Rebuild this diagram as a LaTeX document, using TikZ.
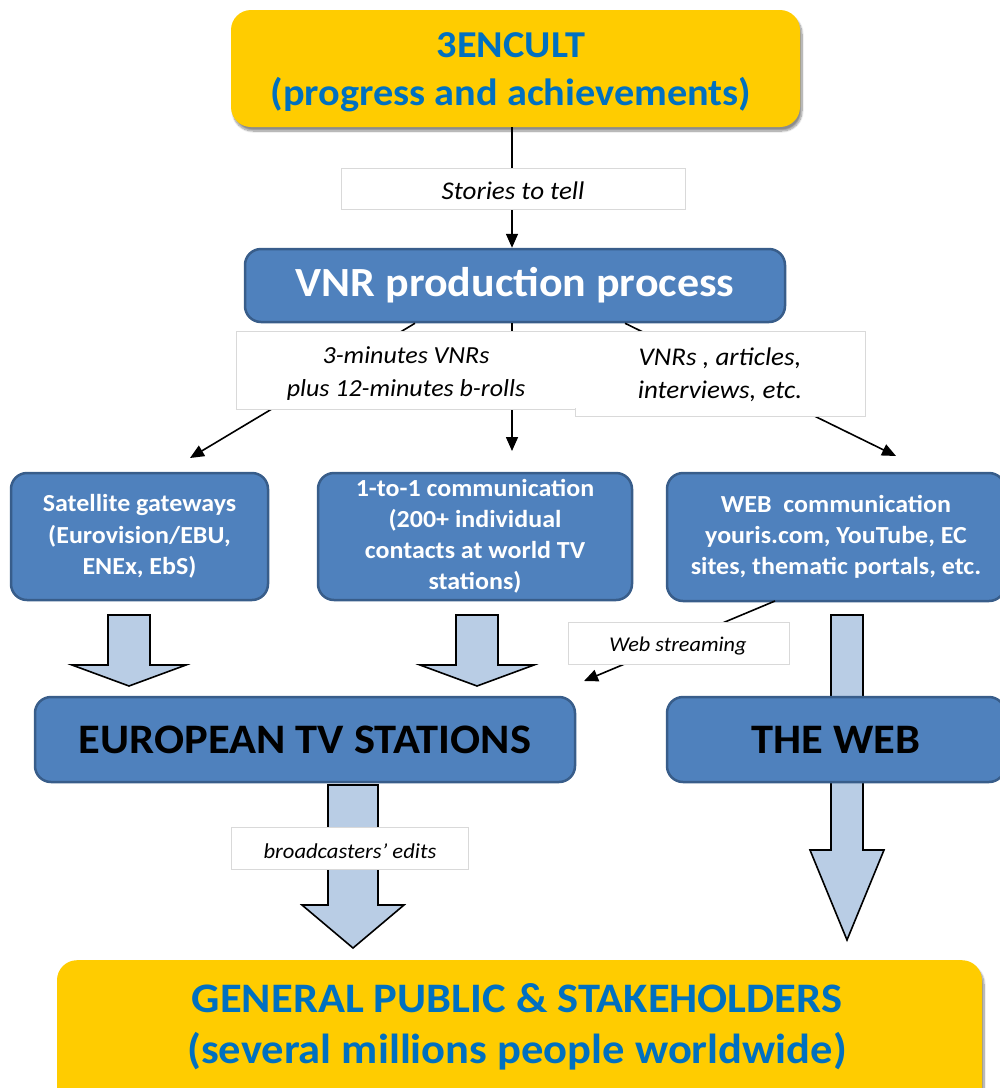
\documentclass[tikz,border=0pt]{standalone}
\usepackage{fontspec}
\setmainfont{Carlito}[FakeStretch=1.06]
\usetikzlibrary{arrows.meta,shadows.blur,calc}
\definecolor{sunyellow}{HTML}{FFCC00}
\definecolor{titleblue}{HTML}{0070C0}
\definecolor{boxblue}{HTML}{4F81BD}
\definecolor{boxedge}{HTML}{385D8A}
\definecolor{paleblue}{HTML}{B9CDE5}
\definecolor{labeledge}{HTML}{D9D9D9}
\newcommand\fsz[2]{\fontsize{#1}{#2}\selectfont}
\tikzset{
  yellowbox/.style={draw=none, fill=sunyellow, rounded corners=20pt,
    blur shadow={shadow xshift=2pt, shadow yshift=-4pt, shadow blur steps=10, shadow opacity=45},
    inner sep=0pt},
  bigtitle/.style={text=titleblue, align=center, inner sep=0pt},
  bluebox/.style={draw=boxedge, line width=2.5pt, fill=boxblue, rounded corners=16pt,
    text=white, align=center, inner sep=0pt},
  tagbox/.style={draw=labeledge, line width=0.8pt, fill=white, inner sep=0pt, align=center},
  tagtext/.style={inner sep=0pt, align=center},
  arr/.style={line width=1.6pt, -{Triangle[length=14pt,width=12pt]}},
  fatarrow/.style={draw=black, line width=1.6pt, fill=paleblue, line join=miter}
}
% block arrow: centre x, top y, neck y, tip y, shaft half width, head half width
\newcommand\fatdown[6]{%
  \path[fatarrow] (#1-#5,#2) -- (#1+#5,#2) -- (#1+#5,#3) -- (#1+#6,#3) -- (#1,#4)
    -- (#1-#6,#3) -- (#1-#5,#3) -- cycle;}
\begin{document}
\begin{tikzpicture}[x=1pt,y=-1pt]
\useasboundingbox (0,0) rectangle (1000,1088);
\clip (0,0) rectangle (1000,1088);

% block arrows, behind the boxes
\fatdown{129}{615}{665}{686}{21}{57}
\fatdown{477}{615}{665}{686}{21}{57}
\fatdown{847}{615}{850}{940}{16}{37}
\fatdown{353}{785}{905}{948}{25}{51}

% top source box
\node[yellowbox, minimum width=569pt, minimum height=117pt] (src) at (515.5,68.5) {};
\node[bigtitle, font=\bfseries\fsz{38}{48}] (srctext) at (511,72.5)
  {3ENCULT\\(progress and achievements)};

% production box
\node[bluebox, minimum width=540pt, minimum height=73pt, font=\bfseries\fsz{41.5}{48}] (vnr) at (515,285.5)
  {VNR production process};

% channel boxes
\node[bluebox, minimum width=257pt, minimum height=127pt, font=\bfseries\fsz{24.5}{31.5}] (sat) at (139.5,536.5)
  {Satellite gateways\\(Eurovision/EBU,\\ENEx, EbS)};
\node[bluebox, minimum width=314pt, minimum height=127pt, font=\bfseries\fsz{24.5}{31}] (one) at (475,536.5)
  {1-to-1 communication\\(200+ individual\\contacts at world TV\\stations)};
\node[bluebox, minimum width=338pt, minimum height=128pt, font=\bfseries\fsz{24.5}{31}] (web) at (836,537)
  {WEB\ \ communication\\youris.com, YouTube, EC\\sites, thematic portals, etc.};

% outlets
\node[bluebox, minimum width=540pt, minimum height=85pt, text=black, font=\bfseries\fsz{42}{48}] (tv) at (305,739.5)
  {EUROPEAN TV STATIONS};
\node[bluebox, minimum width=338pt, minimum height=85pt, text=black, font=\bfseries\fsz{42}{48}] (net) at (836,739.5)
  {THE WEB};

% audience
\node[yellowbox, minimum width=925pt, minimum height=150pt, anchor=north] (pub) at (519.5,960) {};
\node[bigtitle, font=\bfseries\fsz{42}{51}] (pubtext) at (517,1027)
  {GENERAL PUBLIC \& STAKEHOLDERS\\(several millions people worldwide)};

% flow connectors
\coordinate (vl) at ($(vnr.south)+(-100,0)$);
\coordinate (vr) at ($(vnr.south)+(110,0)$);
\coordinate (satin) at (190,458);
\coordinate (onein) at (512,451);
\coordinate (webin) at (896,456);
\coordinate (webout) at (775,601);
\coordinate (tvin) at (584,681);
\draw[arr] (src.south -| 512,0) -- (vnr.north -| 512,0);
\draw[arr] (vl) -- (satin);
\draw[arr] (vnr.south -| 512,0) -- (onein);
\draw[arr] (vr) -- (webin);
\draw[arr] (webout) -- (tvin);

% captions on the connectors
\node[tagbox, minimum width=344pt, minimum height=41pt] (t1) at (513,188.5) {};
\node[tagtext, font=\itshape\fsz{25.5}{30}] (t1text) at (513,191) {Stories to tell};
\node[tagbox, minimum width=339pt, minimum height=78pt] (t2) at (405.5,370) {};
\node[tagbox, minimum width=290pt, minimum height=85pt] (t3) at (720,373.5) {};
\fill[white] (t2.north east) ++(-1,1.2) rectangle ++(3,76);
\node[tagtext, font=\itshape\fsz{24.5}{33}] (t2text) at (406,373.5)
  {3-minutes VNRs\\plus 12-minutes b-rolls};
\node[tagtext, font=\itshape\fsz{25.5}{33}] (t3text) at (720,375)
  {VNRs , articles,\\interviews, etc.};
\node[tagbox, minimum width=221pt, minimum height=42pt] (t4) at (678.5,643) {};
\node[tagtext, font=\itshape\fsz{21}{24}] (t4text) at (678,646) {Web streaming};
\node[tagbox, minimum width=237pt, minimum height=42pt] (t5) at (349.5,848) {};
\node[tagtext, font=\itshape\fsz{21.3}{24}] (t5text) at (350,851) {broadcasters’ edits};
\end{tikzpicture}
\end{document}
